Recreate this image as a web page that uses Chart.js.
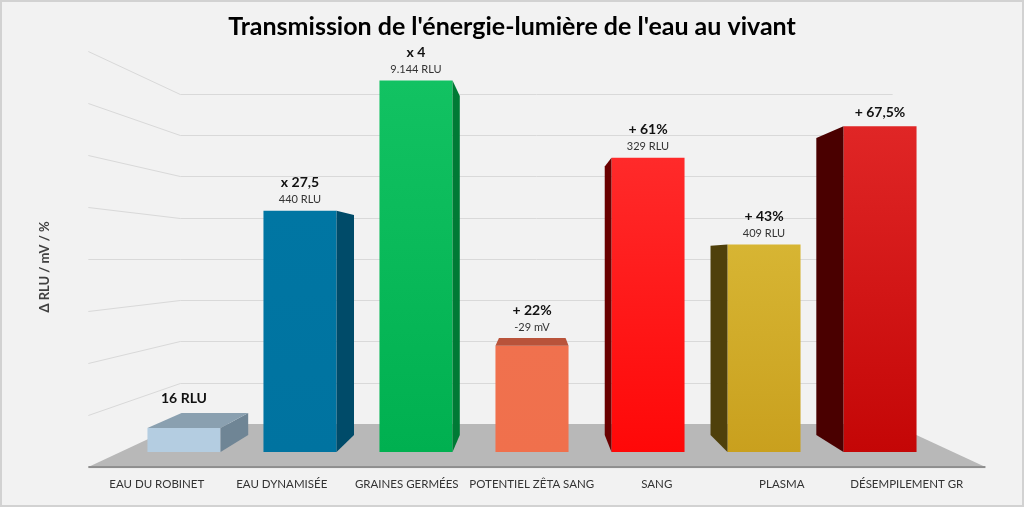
<!DOCTYPE html>
<html lang="fr">
<head>
<meta charset="utf-8">
<title>Transmission de l'énergie-lumière de l'eau au vivant</title>
<script src="https://cdn.jsdelivr.net/npm/chart.js@4.4.1/dist/chart.umd.min.js"></script>
<style>
  html, body { margin: 0; padding: 0; background: #f2f2f2; }
  #wrap { width: 1024px; height: 507px; }
</style>
</head>
<body>
<div id="wrap"><canvas id="chart" width="1024" height="507"></canvas></div>
<script>
const chartTitle = "Transmission de l'énergie-lumière de l'eau au vivant";
const yTitle = 'Δ RLU / mV / %';
const categories = ['EAU DU ROBINET', 'EAU DYNAMISÉE', 'GRAINES GERMÉES', 'POTENTIEL ZÊTA SANG', 'SANG', 'PLASMA', 'DÉSEMPILEMENT GR'];
const values = [5, 50, 77, 22, 61, 43, 67.5];
const headLabels = ['16 RLU', 'x 27,5', 'x 4', '+ 22%', '+ 61%', '+ 43%', '+ 67,5%'];
const subLabels = ['', '440 RLU', '9.144 RLU', '-29 mV', '329 RLU', '409 RLU', ''];
const gridTicks = [10, 20, 30, 40, 50, 60, 70, 80];

// bar colours: front (top/bottom of gradient), side face, top face
const frontTop = ['#b4cde1', '#0076a3', '#12c262', '#f0714e', '#ff2a2a', '#d7b533', '#e02626'];
const frontBottom = ['#b4cde1', '#0073a0', '#00b050', '#f0704c', '#ff0808', '#c9a01e', '#c40606'];
const sideColors = ['#6f8595', '#004b69', '#007a35', '#a04530', '#6a0000', '#4f400b', '#4a0000'];
const capColors = ['#8aa0b0', '#005a7e', '#009540', '#b9533a', '#b00000', '#8a7015', '#800000'];

// fake perspective: vanishing point and depth factors relative to the bar front plane
const VP = { x: 535, y: 258 };
const K_BAR_BACK = 0.912;
const K_FLOOR_FRONT = 1.0776;
const K_WALL = 0.8556;

function project(x, y, k) {
  return { x: VP.x + k * (x - VP.x), y: VP.y + k * (y - VP.y) };
}

function poly(ctx, pts, fill) {
  ctx.beginPath();
  ctx.moveTo(pts[0].x, pts[0].y);
  for (let i = 1; i < pts.length; i++) ctx.lineTo(pts[i].x, pts[i].y);
  ctx.closePath();
  ctx.fillStyle = fill;
  ctx.fill();
}

const scene = {
  id: 'scene',
  beforeDraw(chart) {
    const { ctx, chartArea, scales } = chart;
    const W = chart.width, H = chart.height;
    ctx.save();
    ctx.fillStyle = '#f2f2f2';
    ctx.fillRect(0, 0, W, H);
    ctx.strokeStyle = '#d2d2d2';
    ctx.lineWidth = 2;
    ctx.strokeRect(1, 1, W - 2, H - 2);

    // title
    ctx.fillStyle = '#000';
    ctx.textAlign = 'center';
    ctx.textBaseline = 'middle';
    ctx.font = 'bold 24px Lato';
    const tw = ctx.measureText(chartTitle).width;
    const ts = Math.min(26, 24 * 567 / tw);
    ctx.font = 'bold ' + ts.toFixed(1) + 'px Lato';
    ctx.fillText(chartTitle, 512, 27);

    // y title
    ctx.save();
    ctx.translate(45, 267);
    ctx.rotate(-Math.PI / 2);
    ctx.font = 'bold 13px Lato';
    ctx.fillStyle = '#404040';
    ctx.fillText(yTitle, 0, 0);
    ctx.restore();

    const xl = chartArea.left - 5.5;
    const xr = chartArea.right + 15;
    const y0 = scales.y.getPixelForValue(0);

    // walls
    ctx.strokeStyle = '#d9d9d9';
    ctx.lineWidth = 1;
    gridTicks.forEach(v => {
      const y = scales.y.getPixelForValue(v);
      const a = project(xl, y, K_FLOOR_FRONT);
      const b = project(xl, y, K_WALL);
      const c = project(xr, y, K_WALL);
      ctx.beginPath();
      ctx.moveTo(a.x, Math.round(a.y) + 0.5);
      ctx.lineTo(b.x, Math.round(b.y) + 0.5);
      ctx.lineTo(c.x, Math.round(b.y) + 0.5);
      ctx.stroke();
    });

    // floor
    const fl = project(xl, y0, K_FLOOR_FRONT);
    const fr = project(xr, y0, K_FLOOR_FRONT);
    const bl = project(xl, y0, K_WALL);
    const br = project(xr, y0, K_WALL);
    poly(ctx, [bl, br, fr, fl], '#b8b8b8');
    ctx.fillStyle = '#8e8e8e';
    ctx.fillRect(fl.x, fl.y - 1, fr.x - fl.x, 2);

    // category labels along the front edge of the floor
    ctx.fillStyle = '#333';
    ctx.font = '11.5px Lato';
    categories.forEach((c, i) => {
      const p = project(scales.x.getPixelForValue(i), y0, K_FLOOR_FRONT);
      ctx.fillText(c, p.x, 484);
    });
    ctx.restore();
  },
  afterDatasetsDraw(chart) {
    const { ctx } = chart;
    const meta = chart.getDatasetMeta(0);
    ctx.save();
    meta.data.forEach((bar, i) => {
      const { x, y, base, width } = bar.getProps(['x', 'y', 'base', 'width'], true);
      const L = x - width / 2, R = x + width / 2, T = y, B = base;
      if (R < VP.x) {
        poly(ctx, [{ x: R, y: T }, project(R, T, K_BAR_BACK), project(R, B, K_BAR_BACK), { x: R, y: B }], sideColors[i]);
      } else if (L > VP.x) {
        poly(ctx, [{ x: L, y: T }, project(L, T, K_BAR_BACK), project(L, B, K_BAR_BACK), { x: L, y: B }], sideColors[i]);
      }
      let top = T;
      if (T > VP.y) {
        const pl = project(L, T, K_BAR_BACK), pr = project(R, T, K_BAR_BACK);
        poly(ctx, [{ x: L, y: T }, { x: R, y: T }, pr, pl], capColors[i]);
        top = pl.y;
      }
      ctx.textAlign = 'center';
      ctx.textBaseline = 'middle';
      if (subLabels[i]) {
        ctx.fillStyle = '#111';
        ctx.font = 'bold 14px Lato';
        ctx.fillText(headLabels[i], x, top - 28);
        ctx.fillStyle = '#333';
        ctx.font = '11px Lato';
        ctx.fillText(subLabels[i], x, top - 11);
      } else {
        ctx.fillStyle = '#111';
        ctx.font = 'bold 14px Lato';
        ctx.fillText(headLabels[i], x, top - 14);
      }
    });
    ctx.restore();
  }
};

function frontFill(context) {
  const i = context.dataIndex;
  const chart = context.chart;
  if (!chart.chartArea || !chart.scales.y) return frontBottom[i];
  const yTop = chart.scales.y.getPixelForValue(values[i]);
  const yBot = chart.scales.y.getPixelForValue(0);
  if (!isFinite(yTop) || !isFinite(yBot) || yTop === yBot) return frontBottom[i];
  const g = chart.ctx.createLinearGradient(0, yTop, 0, yBot);
  g.addColorStop(0, frontTop[i]);
  g.addColorStop(1, frontBottom[i]);
  return g;
}

new Chart(document.getElementById('chart'), {
  type: 'bar',
  data: {
    labels: categories,
    datasets: [{
      data: values,
      backgroundColor: frontFill,
      borderWidth: 0,
      barPercentage: 0.63,
      categoryPercentage: 1.0
    }]
  },
  options: {
    responsive: false,
    animation: false,
    layout: { padding: { left: 126, right: 86, top: 66, bottom: 55 } },
    plugins: {
      legend: { display: false },
      title: { display: false },
      tooltip: { enabled: false }
    },
    scales: {
      x: { display: false },
      y: { display: false, min: 0, max: 80 }
    }
  },
  plugins: [scene]
});
</script>
</body>
</html>
